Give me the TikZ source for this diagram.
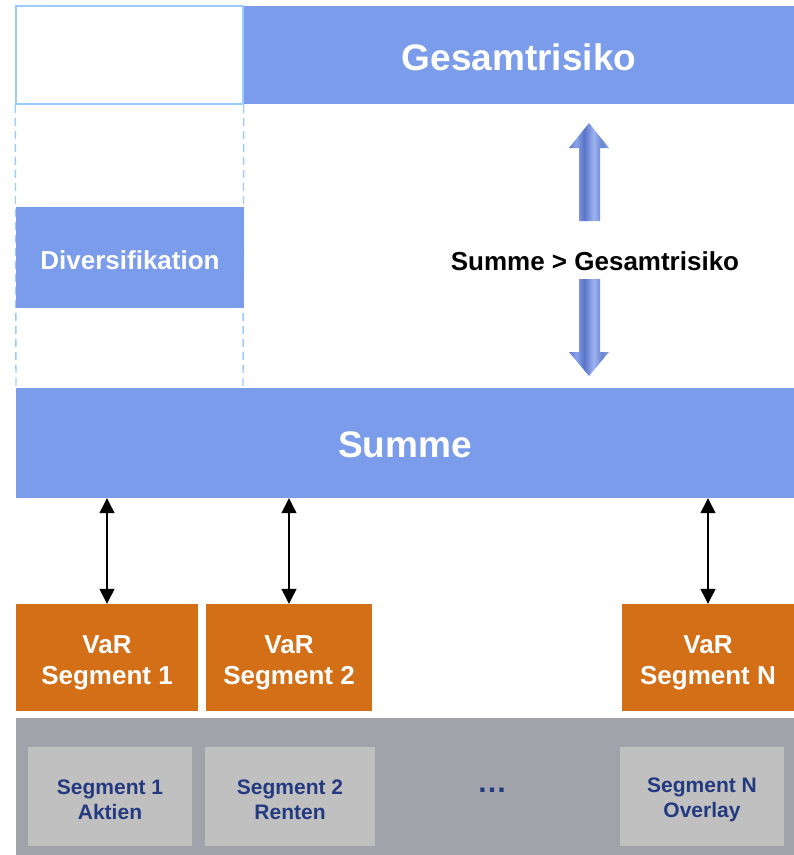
\documentclass[tikz,border=0pt]{standalone}
\usepackage{fontspec}
\setmainfont{Liberation Sans}
\usetikzlibrary{arrows.meta}
\definecolor{bluebox}{HTML}{7A9CEB}
\definecolor{lightline}{HTML}{9CCBFF}
\definecolor{orangebox}{HTML}{D36F17}
\definecolor{grayband}{HTML}{A2A2AA}
\definecolor{graybox}{HTML}{C0C0C0}
\definecolor{darkbluetext}{HTML}{243A80}
\definecolor{stA}{HTML}{4A64BC}
\definecolor{stB}{HTML}{6F8AD8}
\definecolor{stC}{HTML}{4E68C0}
\definecolor{stD}{HTML}{8AA3EA}
\definecolor{stE}{HTML}{5A74C8}
\definecolor{stF}{HTML}{9DB3F0}
\definecolor{stG}{HTML}{6A84D2}
\definecolor{stH}{HTML}{9AB0EE}
\definecolor{stI}{HTML}{7A94DE}
\definecolor{stJ}{HTML}{8FA6EA}
\pgfdeclarehorizontalshading{stripes}{100bp}{
  color(0bp)=(stA); color(12bp)=(stB); color(22bp)=(stC);
  color(34bp)=(stD); color(44bp)=(stE); color(56bp)=(stF);
  color(66bp)=(stG); color(78bp)=(stH); color(88bp)=(stI);
  color(100bp)=(stJ)}
\tikzset{
  plainbox/.style={rectangle, inner sep=0pt, draw=none},
  whitetext/.style={inner sep=0pt, text=white, font=\bfseries\fontsize{26}{31}\selectfont, align=center},
  bigtext/.style={whitetext, font=\bfseries\fontsize{37}{44}\selectfont},
  segtext/.style={inner sep=0pt, text=darkbluetext, font=\bfseries\fontsize{21}{25}\selectfont, align=center},
  dbl/.style={{Triangle[length=15pt,width=15pt]}-{Triangle[length=15pt,width=15pt]}, line width=1.3pt, black},
  dashline/.style={lightline, line width=1.4pt, dash pattern=on 8pt off 5pt},
  bigarrow/.style={shading=stripes, draw=none}
}
\begin{document}
\begin{tikzpicture}[x=1pt,y=-1pt]
\useasboundingbox (0,0) rectangle (794,855);
% top row
\node[plainbox, draw=lightline, line width=1.5pt, minimum width=227pt, minimum height=98pt] (empty) at (129.5,55) {};
\node[plainbox, fill=bluebox, minimum width=550pt, minimum height=98pt] (ges) at (519,55) {};
\node[bigtext, yshift=-2pt] (gest) at (ges.center) {Gesamtrisiko};
% dashed guides
\draw[dashline] (empty.south west) -- (16,388);
\draw[dashline] (empty.south east) -- (243,388);
% Diversifikation
\node[plainbox, fill=bluebox, minimum width=228pt, minimum height=101pt] (div) at (130,257.5) {};
\node[whitetext, yshift=-3pt] (divt) at (div.center) {Diversifikation};
% Summe
\node[plainbox, fill=bluebox, minimum width=778pt, minimum height=110pt] (sum) at (405,443) {};
\node[bigtext, yshift=-2pt] (sumt) at (sum.center) {Summe};
% comparison text
\node[font=\bfseries\fontsize{26}{31}\selectfont, text=black, inner sep=0pt] (cmp) at (595,261) {Summe > Gesamtrisiko};
% big shaded arrows
\shade[bigarrow] (589,123) -- (609,148) -- (600,148) -- (600,221) -- (579,221) -- (579,148) -- (569,148) -- cycle;
\shade[bigarrow] (589,376) -- (609,352) -- (600,352) -- (600,279) -- (579,279) -- (579,352) -- (569,352) -- cycle;
% VaR boxes
\node[plainbox, fill=orangebox, minimum width=182pt, minimum height=107pt] (v1) at (107,657.5) {};
\node[plainbox, fill=orangebox, minimum width=166pt, minimum height=107pt] (v2) at (289,657.5) {};
\node[plainbox, fill=orangebox, minimum width=172pt, minimum height=107pt] (vN) at (708,657.5) {};
\node[whitetext, yshift=-5pt] (v1t) at (v1.center) {VaR\\Segment 1};
\node[whitetext, yshift=-5pt] (v2t) at (v2.center) {VaR\\Segment 2};
\node[whitetext, yshift=-5pt] (vNt) at (vN.center) {VaR\\Segment N};
\draw[dbl] (v1.north) -- (v1.north |- sum.south);
\draw[dbl] (v2.north) -- (v2.north |- sum.south);
\draw[dbl] (vN.north) -- (vN.north |- sum.south);
% gray band
\node[plainbox, fill=grayband, minimum width=778pt, minimum height=137pt] (band) at (405,786.5) {};
\node[plainbox, fill=graybox, minimum width=164pt, minimum height=99pt] (s1) at (110,796.5) {};
\node[plainbox, fill=graybox, minimum width=170pt, minimum height=99pt] (s2) at (290,796.5) {};
\node[plainbox, fill=graybox, minimum width=164pt, minimum height=99pt] (sN) at (702,796.5) {};
\node[segtext, yshift=-3pt] (s1t) at (s1.center) {Segment 1\\Aktien};
\node[segtext, yshift=-3pt] (s2t) at (s2.center) {Segment 2\\Renten};
\node[segtext, yshift=-3pt] (sNt) at (sN.center) {Segment N\\Overlay};
\node[segtext, font=\bfseries\fontsize{30}{36}\selectfont, anchor=base] (dots) at (492,792) {…};
\end{tikzpicture}
\end{document}
